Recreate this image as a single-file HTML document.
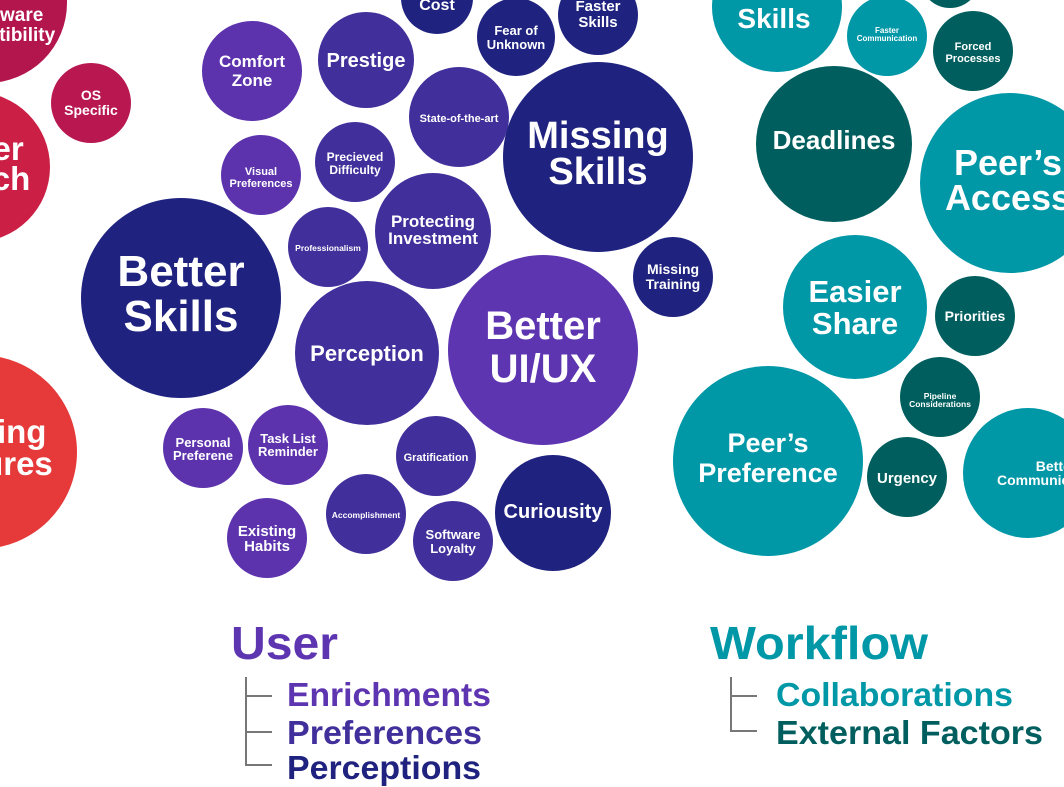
<!DOCTYPE html>
<html><head><meta charset="utf-8"><style>
html,body{margin:0;padding:0;background:#fff;}
svg{display:block;}
text{font-family:"Liberation Sans",Arial,sans-serif;font-weight:bold;fill:#fff;text-anchor:middle;}
.l{text-anchor:start;}
</style></head><body>
<svg width="1064" height="787" viewBox="0 0 1064 787">
<!-- left red cluster -->
<circle cx="-13" cy="3" r="80" fill="#b3154d"/>
<text x="0" y="21" font-size="19">Hardware</text><text x="-5" y="41" font-size="19">Compatibility</text>
<circle cx="91" cy="103" r="40" fill="#b8174f"/>
<text x="91" y="100" font-size="14">OS</text><text x="91" y="115" font-size="14">Specific</text>
<circle cx="-25" cy="167" r="75" fill="#cc1f45"/>
<text x="-24" y="160" font-size="33">Better</text><text x="-44" y="190" font-size="33">Research</text>
<circle cx="-20" cy="452" r="97" fill="#e5393a"/>
<text x="-15" y="443" font-size="33">Missing</text><text x="-16" y="475" font-size="33">Features</text>

<!-- user cluster -->
<g>
<circle cx="437" cy="-2" r="36" fill="#1f237f"/><text x="437" y="10" font-size="16">Cost</text>
<circle cx="516" cy="37" r="39" fill="#1f237f"/><text x="516" y="35" font-size="13">Fear of</text><text x="516" y="49" font-size="13">Unknown</text>
<circle cx="598" cy="15" r="40" fill="#1f237f"/><text x="598" y="11" font-size="15">Faster</text><text x="598" y="27" font-size="15">Skills</text>
<circle cx="252" cy="71" r="50" fill="#5c33ad"/><text x="252" y="67" font-size="17">Comfort</text><text x="252" y="86" font-size="17">Zone</text>
<circle cx="366" cy="60" r="48" fill="#41309b"/><text x="366" y="67" font-size="20">Prestige</text>
<circle cx="459" cy="117" r="50" fill="#41309b"/><text x="459" y="122" font-size="11">State-of-the-art</text>
<circle cx="598" cy="157" r="95" fill="#1f237f"/><text x="598" y="148" font-size="38">Missing</text><text x="598" y="184" font-size="38">Skills</text>
<circle cx="261" cy="175" r="40" fill="#5c33ad"/><text x="261" y="175" font-size="11">Visual</text><text x="261" y="187" font-size="11">Preferences</text>
<circle cx="355" cy="162" r="40" fill="#41309b"/><text x="355" y="161" font-size="12">Precieved</text><text x="355" y="174" font-size="12">Difficulty</text>
<circle cx="328" cy="247" r="40" fill="#41309b"/><text x="328" y="251" font-size="8.5">Professionalism</text>
<circle cx="433" cy="231" r="58" fill="#41309b"/><text x="433" y="227" font-size="17">Protecting</text><text x="433" y="244" font-size="17">Investment</text>
<circle cx="181" cy="298" r="100" fill="#1f237f"/><text x="181" y="286" font-size="44">Better</text><text x="181" y="331" font-size="44">Skills</text>
<circle cx="673" cy="277" r="40" fill="#1f237f"/><text x="673" y="274" font-size="14">Missing</text><text x="673" y="289" font-size="14">Training</text>
<circle cx="367" cy="353" r="72" fill="#41309b"/><text x="367" y="361" font-size="22">Perception</text>
<circle cx="543" cy="350" r="95" fill="#5e35b1"/><text x="543" y="339" font-size="40">Better</text><text x="543" y="382" font-size="40">UI/UX</text>
<circle cx="203" cy="448" r="40" fill="#5c33ad"/><text x="203" y="447" font-size="13">Personal</text><text x="203" y="460" font-size="13">Preferene</text>
<circle cx="288" cy="445" r="40" fill="#5c33ad"/><text x="288" y="443" font-size="13">Task List</text><text x="288" y="456" font-size="13">Reminder</text>
<circle cx="436" cy="456" r="40" fill="#41309b"/><text x="436" y="461" font-size="11">Gratification</text>
<circle cx="553" cy="513" r="58" fill="#1f237f"/><text x="553" y="518" font-size="20">Curiousity</text>
<circle cx="366" cy="514" r="40" fill="#41309b"/><text x="366" y="518" font-size="8.5">Accomplishment</text>
<circle cx="267" cy="538" r="40" fill="#5c33ad"/><text x="267" y="536" font-size="15">Existing</text><text x="267" y="551" font-size="15">Habits</text>
<circle cx="453" cy="541" r="40" fill="#41309b"/><text x="453" y="539" font-size="13">Software</text><text x="453" y="553" font-size="13">Loyalty</text>
</g>

<!-- workflow cluster -->
<g>
<circle cx="777" cy="7" r="65" fill="#0097a7"/><text x="774" y="-12" font-size="28">Better</text><text x="774" y="28" font-size="28">Skills</text>
<circle cx="950" cy="-22" r="30" fill="#005f5e"/>
<circle cx="887" cy="36" r="40" fill="#0097a7"/><text x="887" y="33" font-size="8">Faster</text><text x="887" y="41" font-size="8">Communication</text>
<circle cx="973" cy="51" r="40" fill="#005f5e"/><text x="973" y="50" font-size="11">Forced</text><text x="973" y="62" font-size="11">Processes</text>
<circle cx="834" cy="144" r="78" fill="#005f5e"/><text x="834" y="149" font-size="26">Deadlines</text>
<circle cx="1010" cy="183" r="90" fill="#0097a7"/><text x="1008" y="175" font-size="36">Peer’s</text><text x="1008" y="210" font-size="36">Access</text>
<circle cx="855" cy="307" r="72" fill="#0097a7"/><text x="855" y="302" font-size="31">Easier</text><text x="855" y="334" font-size="31">Share</text>
<circle cx="975" cy="316" r="40" fill="#005f5e"/><text x="975" y="321" font-size="14">Priorities</text>
<circle cx="940" cy="397" r="40" fill="#005f5e"/><text x="940" y="399" font-size="8.5">Pipeline</text><text x="940" y="407" font-size="8.5">Considerations</text>
<circle cx="768" cy="461" r="95" fill="#0097a7"/><text x="768" y="452" font-size="27">Peer’s</text><text x="768" y="482" font-size="27">Preference</text>
<circle cx="907" cy="477" r="40" fill="#005f5e"/><text x="907" y="483" font-size="15">Urgency</text>
<circle cx="1028" cy="473" r="65" fill="#0097a7"/><text x="1056" y="471" font-size="14">Better</text><text class="l" x="997" y="485" font-size="14">Communication</text>
</g>

<!-- legend -->
<text class="l" x="231" y="659" font-size="46" textLength="107" lengthAdjust="spacingAndGlyphs" style="fill:#5e35b1">User</text>
<g stroke="#777" stroke-width="2" fill="none">
<path d="M246 677 V765 H272 M246 696 H272 M246 732 H272"/>
<path d="M731 677 V731 H757 M731 696 H757"/>
</g>
<text class="l" x="287" y="706" font-size="33" textLength="204" lengthAdjust="spacingAndGlyphs" style="fill:#5e35b1">Enrichments</text>
<text class="l" x="287" y="744" font-size="33" textLength="195" lengthAdjust="spacingAndGlyphs" style="fill:#41309b">Preferences</text>
<text class="l" x="287" y="779" font-size="33" textLength="194" lengthAdjust="spacingAndGlyphs" style="fill:#1f237f">Perceptions</text>
<text class="l" x="710" y="659" font-size="46" textLength="218" lengthAdjust="spacingAndGlyphs" style="fill:#0097a7">Workflow</text>
<text class="l" x="776" y="706" font-size="33" textLength="237" lengthAdjust="spacingAndGlyphs" style="fill:#0097a7">Collaborations</text>
<text class="l" x="776" y="744" font-size="33" textLength="267" lengthAdjust="spacingAndGlyphs" style="fill:#005f5e">External Factors</text>
</svg>
</body></html>
